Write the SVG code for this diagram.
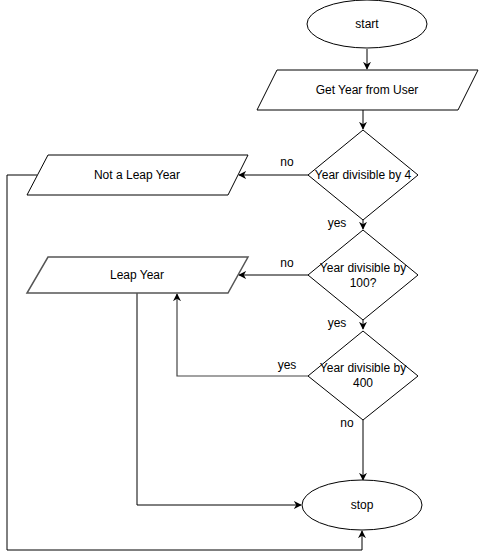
<svg xmlns="http://www.w3.org/2000/svg" width="479" height="559" viewBox="0 0 479 559">
<defs>
<marker id="arr" viewBox="0 0 10 10" refX="9" refY="5" markerWidth="8" markerHeight="8" orient="auto" markerUnits="userSpaceOnUse">
<path d="M0,0 L10,5 L0,10 L3,5 Z" fill="#000"/>
</marker>
<marker id="arrg" viewBox="0 0 10 10" refX="9" refY="5" markerWidth="8" markerHeight="8" orient="auto" markerUnits="userSpaceOnUse">
<path d="M0,0 L10,5 L0,10 L3,5 Z" fill="#000"/>
</marker>
<style>
.n{fill:#fff;stroke:#000;stroke-width:1}
.g{fill:#fff;stroke:#555;stroke-width:1.5}
.t{font-family:"Liberation Sans",Arial,sans-serif;font-size:12px;fill:#000;text-anchor:middle;dominant-baseline:central}
.c{fill:none;stroke:#000;stroke-width:1}
.cg{fill:none;stroke:#444;stroke-width:1.2}
</style>
</defs>
<rect width="479" height="559" fill="#fff"/>
<g id="connectors">
<path class="c" d="M367,49 V69" marker-end="url(#arr)"/>
<path class="c" d="M363,110 V129" marker-end="url(#arr)"/>
<path class="c" d="M363,220 V229" marker-end="url(#arr)"/>
<path class="c" d="M363,320 V329" marker-end="url(#arr)"/>
<path class="c" d="M363,420 V480" marker-end="url(#arr)"/>
<path class="c" d="M308,175 H239" marker-end="url(#arr)"/>
<path class="c" d="M308,275 H239" marker-end="url(#arr)"/>
<path class="cg" d="M308,376 H177 V294" marker-end="url(#arrg)"/>
<path class="c" d="M137,293 V505 H301" marker-end="url(#arr)"/>
<path class="c" d="M37,175 H7 V550 H362 V531" marker-end="url(#arr)"/>
<text class="t" x="287" y="162">no</text>
<text class="t" x="337" y="223">yes</text>
<text class="t" x="287" y="263">no</text>
<text class="t" x="337" y="323">yes</text>
<text class="t" x="287" y="365">yes</text>
<text class="t" x="347" y="423">no</text>
</g>
<g id="start">
<ellipse class="n" cx="367" cy="24" rx="60" ry="24"/>
<text class="t" x="367" y="24">start</text>
</g>
<g id="input">
<polygon class="n" points="277,70 478,70 458,110 257,110"/>
<text class="t" x="367" y="90">Get Year from User</text>
</g>
<g id="div4">
<polygon class="n" points="363,130 418,175 363,220 308,175"/>
<text class="t" x="363" y="175">Year divisible by 4</text>
</g>
<g id="div100">
<polygon class="n" points="363,230 418,275 363,320 308,275"/>
<text class="t" x="363" y="268">Year divisible by</text>
<text class="t" x="363" y="283">100?</text>
</g>
<g id="div400">
<polygon class="n" points="363,331 418,376 363,420 308,376"/>
<text class="t" x="363" y="368">Year divisible by</text>
<text class="t" x="363" y="383">400</text>
</g>
<g id="notleap">
<polygon class="n" points="48,155 248,155 228,195 27,195"/>
<text class="t" x="137" y="175">Not a Leap Year</text>
</g>
<g id="leap">
<polygon class="g" points="48,257 248,257 228,293 27,293"/>
<text class="t" x="137" y="275">Leap Year</text>
</g>
<g id="stop">
<ellipse class="n" cx="362" cy="505" rx="60" ry="25"/>
<text class="t" x="362" y="505">stop</text>
</g>
</svg>
